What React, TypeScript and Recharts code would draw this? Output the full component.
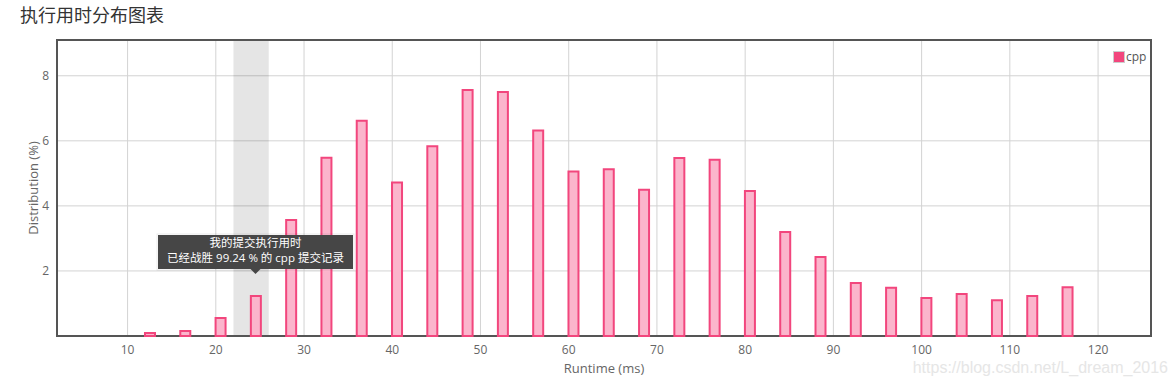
import { Bar, BarChart, CartesianGrid, ReferenceArea, ReferenceDot, XAxis, YAxis } from 'recharts'

const TITLE = '执行用时分布图表'
const SERIES = 'cpp'
const RUNTIME = [
  12.5, 16.5, 20.5, 24.5, 28.5, 32.5, 36.5, 40.5, 44.5, 48.5, 52.5, 56.5, 60.5, 64.5,
  68.5, 72.5, 76.5, 80.5, 84.5, 88.5, 92.5, 96.5, 100.5, 104.5, 108.5, 112.5, 116.5,
]
const DIST = [
  0.09, 0.15, 0.55, 1.23, 3.57, 5.48, 6.62, 4.72, 5.83, 7.56, 7.5, 6.32, 5.06, 5.13,
  4.5, 5.47, 5.42, 4.46, 3.2, 2.43, 1.63, 1.48, 1.17, 1.29, 1.1, 1.23, 1.5,
]
const X_TICKS = [10, 20, 30, 40, 50, 60, 70, 80, 90, 100, 110, 120]
const Y_TICKS = [2, 4, 6, 8]
const X_DOMAIN = [2, 126]
const Y_DOMAIN = [0, 9.1]
// 我的提交所在区间
const MY_BUCKET = [22, 26]
const MY_RUNTIME = 24.5
const BEAT = '99.24'

const PINK = '#f2467d'
const PINK_FILL = '#fbb5cc'
const BORDER = '#555'
const FONT = '"Open Sans", "Noto Sans CJK SC", sans-serif'

const rows = RUNTIME.map((r, i) => ({ runtime: r, dist: DIST[i] }))
const myValue = DIST[RUNTIME.indexOf(MY_RUNTIME)]

// 提示框：在柱子顶部上方
function TipShape(props: { cx?: number; cy?: number }) {
  const { cx = 0, cy = 0 } = props
  const w = 195
  const h = 34
  const bottom = cy - 27
  return (
    <g>
      <rect x={cx - w / 2 - 1} y={bottom - h - 1} width={w + 2} height={h + 2} fill="none" stroke="rgba(0,0,0,0.08)" />
      <rect x={cx - w / 2} y={bottom - h} width={w} height={h} fill="#464646" />
      <path d={`M${cx - 5},${bottom} L${cx + 5},${bottom} L${cx},${bottom + 5} Z`} fill="#464646" />
      <text x={cx} y={bottom - 25} textAnchor="middle" dominantBaseline="middle" fontSize={11.5} fill="#fff" fontFamily={FONT}>
        我的提交执行用时
      </text>
      <text x={cx} y={bottom - 10} textAnchor="middle" dominantBaseline="middle" fontSize={11.5} fill="#fff" fontFamily={FONT}>
        {`已经战胜 ${BEAT} % 的 ${SERIES} 提交记录`}
      </text>
    </g>
  )
}

function YLabel(props: { viewBox?: { x: number; y: number; width: number; height: number } }) {
  const vb = props.viewBox
  if (!vb) return null
  const x = vb.x + 18
  const y = vb.y + vb.height / 2
  return (
    <text x={x} y={y} transform={`rotate(-90, ${x}, ${y})`} textAnchor="middle" dominantBaseline="middle" fontSize={13} fill="#666" fontFamily={FONT}>
      Distribution (%)
    </text>
  )
}

function XLabel(props: { viewBox?: { x: number; y: number; width: number; height: number } }) {
  const vb = props.viewBox
  if (!vb) return null
  return (
    <text x={vb.x + vb.width / 2} y={vb.y + 34} textAnchor="middle" dominantBaseline="middle" fontSize={13} fill="#666" fontFamily={FONT}>
      Runtime (ms)
    </text>
  )
}

export default function App() {
  return (
    <div style={{ position: 'absolute', left: 0, top: 0, width: 1171, height: 389, background: '#fff', fontFamily: FONT }}>
      <div style={{ position: 'absolute', left: 20, top: 3, fontSize: 18, color: '#333', lineHeight: '24px' }}>{TITLE}</div>

      <BarChart width={1171} height={389} data={rows} margin={{ top: 40, right: 20, bottom: 23, left: 17 }}>
        <CartesianGrid stroke="#d3d3d3" />
        <XAxis
          dataKey="runtime"
          type="number"
          domain={X_DOMAIN}
          ticks={X_TICKS}
          interval={0}
          height={30}
          tickLine={false}
          tickSize={0}
          tickMargin={9}
          axisLine={false}
          tick={{ fill: '#666', fontSize: 12, fontFamily: FONT }}
          label={<XLabel />}
        />
        <YAxis
          type="number"
          domain={Y_DOMAIN}
          ticks={Y_TICKS}
          width={40}
          tickLine={false}
          tickSize={0}
          tickMargin={8}
          axisLine={false}
          tick={{ fill: '#666', fontSize: 12, fontFamily: FONT }}
          label={<YLabel />}
        />
        <Bar dataKey="dist" barSize={10} fill={PINK_FILL} stroke={PINK} strokeWidth={2} isAnimationActive={false} />
        <ReferenceArea x1={MY_BUCKET[0]} x2={MY_BUCKET[1]} fill="#000" fillOpacity={0.1} stroke="none" />
        {/* 绘图区边框 */}
        <ReferenceArea
          x1={X_DOMAIN[0]}
          x2={X_DOMAIN[1]}
          y1={Y_DOMAIN[0]}
          y2={Y_DOMAIN[1]}
          fill="none"
          stroke={BORDER}
          strokeWidth={2}
          ifOverflow="visible"
        />
        <ReferenceDot x={MY_RUNTIME} y={myValue} shape={<TipShape />} />
      </BarChart>

      <div style={{ position: 'absolute', left: 1113, top: 48, display: 'flex', alignItems: 'center', fontSize: 12, color: '#555' }}>
        <span style={{ display: 'inline-block', width: 10, height: 10, background: PINK, border: '1px solid #ccc' }} />
        <span style={{ marginLeft: 1 }}>{SERIES}</span>
      </div>

      <div style={{ position: 'absolute', right: 3, top: 359, fontSize: 16, color: '#e6e6e6', fontFamily: '"Liberation Sans", Arial, sans-serif' }}>
        https://blog.csdn.net/L_dream_2016
      </div>
    </div>
  )
}
